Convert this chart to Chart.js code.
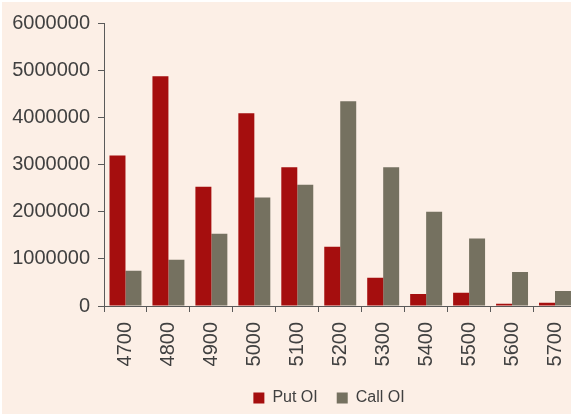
<!DOCTYPE html>
<html>
<head>
<meta charset="utf-8">
<script src="https://cdn.jsdelivr.net/npm/chart.js@4"></script>
<style>
  html, body { margin: 0; padding: 0; background: #ffffff; overflow: hidden; width: 571px; height: 414px; }
  #wrap { position: absolute; left: 2px; top: 2px; width: 587px; height: 414px; background: #FCEFE6; }
  canvas { display: block; }
</style>
</head>
<body>
<div id="wrap"><canvas id="c" width="587" height="414"></canvas></div>
<script>
const strikes = ['4700','4800','4900','5000','5100','5200','5300','5400','5500','5600','5700'];
const putOI  = [3190000, 4870000, 2530000, 4085000, 2940000, 1255000, 600000, 255000, 280000, 50000, 70000];
const callOI = [745000, 980000, 1530000, 2300000, 2570000, 4340000, 2940000, 2000000, 1430000, 720000, 320000];
const yTicks = [0, 1000000, 2000000, 3000000, 4000000, 5000000, 6000000];

const axisColor = '#5a5a5a';
const textColor = '#404040';

const legendShift = {
  id: 'legendShift',
  afterLayout(chart) {
    if (chart.legend) { chart.legend.left += 33.5; chart.legend.right += 33.5; }
  }
};

new Chart(document.getElementById('c'), {
  type: 'bar',
  data: {
    labels: strikes,
    datasets: [
      { label: 'Put OI', data: putOI, backgroundColor: '#A50E0E', borderWidth: 0 },
      { label: 'Call OI', data: callOI, backgroundColor: '#757160', borderWidth: 0 }
    ]
  },
  plugins: [legendShift],
  options: {
    responsive: false,
    animation: false,
    devicePixelRatio: 1,
    layout: { padding: { left: 0, right: 0, top: 21, bottom: 0 } },
    datasets: { bar: { categoryPercentage: 0.744, barPercentage: 1.0 } },
    plugins: {
      tooltip: { enabled: false },
      legend: {
        position: 'bottom',
        labels: {
          boxWidth: 11, boxHeight: 11, padding: 19,
          color: textColor,
          font: { family: '"Liberation Sans", Arial, sans-serif', size: 16 }
        }
      }
    },
    scales: {
      x: {
        grid: { offset: true, drawOnChartArea: false, drawTicks: true, tickLength: 6, color: axisColor, lineWidth: 1 },
        border: { display: true, color: axisColor, width: 1 },
        ticks: {
          color: textColor, maxRotation: 90, minRotation: 90, padding: 10, autoSkip: false,
          font: { family: '"Liberation Sans", Arial, sans-serif', size: 20 }
        },
        afterFit: (s) => { s.height = 65; }
      },
      y: {
        min: 0, max: 6000000,
        afterBuildTicks: (s) => { s.ticks = yTicks.map(v => ({ value: v })); },
        grid: { drawOnChartArea: false, drawTicks: true, tickLength: 6, color: axisColor, lineWidth: 1 },
        border: { display: true, color: axisColor, width: 1 },
        ticks: {
          color: textColor, padding: 8,
          font: { family: '"Liberation Sans", Arial, sans-serif', size: 20 },
          callback: (v) => String(v)
        },
        afterFit: (s) => { s.width = 102; }
      }
    }
  }
});
</script>
</body>
</html>
